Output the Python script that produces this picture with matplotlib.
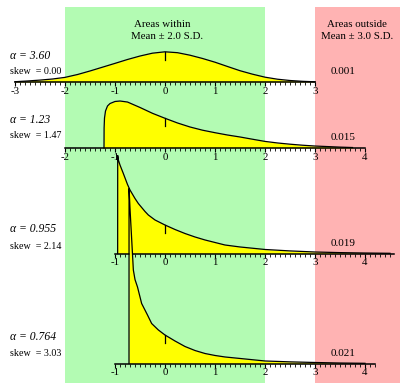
import numpy as np
import matplotlib
matplotlib.use("Agg")
import matplotlib.pyplot as plt

plt.rcParams['font.family'] = ['Liberation Serif', 'DejaVu Serif']
plt.rcParams['axes.unicode_minus'] = False

# ---------------- data ----------------
alpha_labels = ["3.60", "1.23", "0.955", "0.764"]
skew_labels = ["0.00", "1.47", "2.14", "3.03"]
area_within = ["0.958", "0.952", "0.950", "0.952"]
area_outside = ["0.001", "0.015", "0.019", "0.021"]

x1 = [-3, -2.75, -2.5, -2.25, -2, -1.75, -1.5, -1.25, -1, -0.75, -0.5, -0.25, 0,
      0.25, 0.5, 0.75, 1, 1.25, 1.5, 1.75, 2, 2.25, 2.5, 2.75, 3]
d1 = [0.004, 0.015, 0.028, 0.044, 0.068, 0.110, 0.162, 0.218, 0.274, 0.331, 0.382,
      0.424, 0.444, 0.431, 0.394, 0.346, 0.291, 0.228, 0.166, 0.115, 0.071, 0.041,
      0.022, 0.010, 0.003]

x2 = [-1.22, -1.218, -1.21, -1.19, -1.15, -1.1, -1.0, -0.9, -0.75, -0.5, -0.25, 0,
      0.25, 0.5, 0.75, 1.0, 1.25, 1.5, 1.75, 2.0, 2.25, 2.5, 2.75, 3.0, 3.25, 3.5, 3.75]
d2 = [0, 0.294, 0.441, 0.544, 0.618, 0.654, 0.684, 0.691, 0.676, 0.596, 0.510, 0.437,
      0.368, 0.309, 0.262, 0.225, 0.191, 0.162, 0.129, 0.097, 0.074, 0.056, 0.041,
      0.029, 0.021, 0.013, 0.007]

x3 = [-0.947, -0.946, -0.933, -0.9, -0.833, -0.75, -0.7, -0.6, -0.533, -0.4, -0.333,
      -0.2, 0, 0.2, 0.4, 0.6, 0.8, 1.0, 1.2, 1.5, 2.0, 2.5, 3.0, 3.5, 4.0, 4.5]
d3 = [0, 1.441, 1.375, 1.301, 1.176, 1.015, 0.934, 0.809, 0.735, 0.618, 0.566, 0.493,
      0.419, 0.353, 0.294, 0.243, 0.199, 0.162, 0.125, 0.096, 0.059, 0.038, 0.022,
      0.013, 0.007, 0.003]

x4 = [-0.72, -0.719, -0.7, -0.67, -0.633, -0.6, -0.55, -0.467, -0.35, -0.267, -0.133,
      0, 0.2, 0.4, 0.6, 0.8, 1.0, 1.2, 1.5, 2.0, 2.5, 3.0, 3.5, 4.0]
d4 = [0, 2.574, 2.279, 1.875, 1.375, 1.235, 1.125, 0.882, 0.713, 0.588, 0.493, 0.419,
      0.331, 0.250, 0.191, 0.147, 0.118, 0.096, 0.074, 0.037, 0.024, 0.015, 0.007,
      0.003]

axis_ranges = [(-3, 3), (-2, 4), (-1, 4.58), (-1, 4.2)]
tick_values = [[-3, -2, -1, 0, 1, 2, 3], [-2, -1, 0, 1, 2, 3, 4],
               [-1, 0, 1, 2, 3, 4], [-1, 0, 1, 2, 3, 4]]

curves = [(x1, d1), (x2, d2), (x3, d3), (x4, d4)]

# ---------------- layout ----------------
W, H = 407, 389
XLIM = (-3.3, 4.84)
PX = 68.0            # pixels per density unit
bases = [82, 148, 253.5, 363.5]
alpha_y = [56, 119.5, 228.5, 337]
skew_y = [71, 135.7, 246, 354]
within_y = [70, 137.7, 245, 354]
outside_y = [71.7, 137.7, 243.7, 353]
GREEN = '#b3fbb3'
PINK = '#ffb3b3'
YELLOW = '#ffff00'

fig = plt.figure(figsize=(W / 100, H / 100), dpi=100)
bg = fig.add_axes([0, 0, 1, 1])
bg.set_xlim(*XLIM)
bg.set_ylim(H, 0)
bg.axis('off')
bg.axvspan(-2, 2, ymin=(H - 383) / H, ymax=(H - 7) / H, color=GREEN, lw=0)
bg.axvspan(3, 4.7, ymin=(H - 383) / H, ymax=(H - 7) / H, color=PINK, lw=0)

bg.text(-0.05, 24.5, "Areas within", ha='center', va='center', fontsize=7.8)
bg.text(0.05, 36, "Mean \u00b1 2.0 S.D.", ha='center', va='center', fontsize=7.8)
bg.text(3.84, 24.5, "Areas outside", ha='center', va='center', fontsize=7.8)
bg.text(3.84, 36, "Mean \u00b1 3.0 S.D.", ha='center', va='center', fontsize=7.8)

for i in range(4):
    bg.text(-3.1, alpha_y[i], "\u03b1 = " + alpha_labels[i], ha='left', va='center',
            fontsize=8.4, fontstyle='italic')
    bg.text(-3.1, skew_y[i], "skew  = " + skew_labels[i], ha='left', va='center',
            fontsize=7.2)
    bg.text(0, within_y[i], area_within[i], ha='center', va='center', fontsize=8)
    bg.text(3.56, outside_y[i], area_outside[i], ha='center', va='center', fontsize=8)

panel_h = 200
for i, (xs, ds) in enumerate(curves):
    b = bases[i]
    ax = fig.add_axes([0, (H - b) / H, 1, panel_h / H])
    ax.set_xlim(*XLIM)
    ax.set_ylim(0, panel_h / PX)
    ax.patch.set_alpha(0)
    ax.fill_between(xs, 0, ds, color=YELLOW, lw=0, clip_on=False, zorder=1)
    ax.plot(xs, ds, color='black', lw=0.9, clip_on=False, zorder=2)
    d0 = float(np.interp(0.0, xs, ds))
    ax.plot([0, 0], [d0, d0 - 8 / PX], color='black', lw=0.9, clip_on=False, zorder=2)
    for s in ['left', 'right', 'top']:
        ax.spines[s].set_visible(False)
    ax.spines['bottom'].set_bounds(*axis_ranges[i])
    ax.spines['bottom'].set_linewidth(1.1)
    ax.spines['bottom'].set_zorder(3)
    ax.set_yticks([])
    ax.set_xticks(tick_values[i])
    ax.set_xticklabels([str(v) for v in tick_values[i]])
    lo, hi = axis_ranges[i]
    minors = [round(v, 1) for v in np.arange(lo, hi + 1e-9, 0.1)]
    ax.set_xticks(minors, minor=True)
    ax.tick_params(axis='x', which='major', direction='out', length=3, width=0.8,
                   pad=0.5, labelsize=7.8)
    ax.tick_params(axis='x', which='minor', direction='out', length=2, width=0.6)

fig.savefig("out.png", dpi=100)
